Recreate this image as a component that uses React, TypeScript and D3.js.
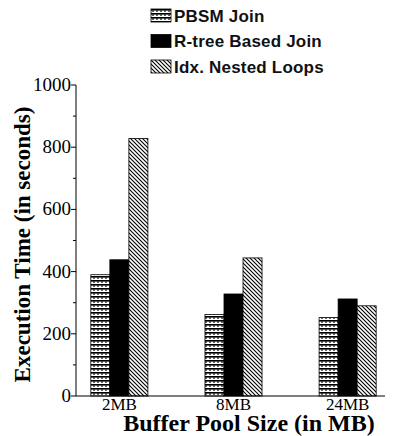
import React from "react";
import * as d3 from "d3";

const categories = ["2MB", "8MB", "24MB"];
const series = ["PBSM Join", "R-tree Based Join", "Idx. Nested Loops"];
const pbsm = [390, 262, 252];
const rtree = [438, 328, 312];
const nested = [828, 444, 290];
const yTicks = [0, 200, 400, 600, 800, 1000];
const yMinorTicks = [100, 300, 500, 700, 900];

const W = 395;
const H = 436;
const margin = { top: 85, right: 4, bottom: 40, left: 76 };

const fills = ["url(#pbsm)", "#000", "url(#nested)"];

export default function App() {
  const values = [pbsm, rtree, nested];
  const x = d3
    .scaleBand<string>()
    .domain(categories)
    .range([margin.left, W - margin.right])
    .paddingInner(0.5)
    .paddingOuter(0.13);
  const xs = d3.scaleBand<number>().domain(d3.range(series.length)).range([0, x.bandwidth()]);
  const y = d3.scaleLinear().domain([0, 1000]).range([H - margin.bottom, margin.top]);
  const serif = "'Liberation Serif', 'Times New Roman', serif";
  const sans = "'Liberation Sans', Arial, sans-serif";

  return (
    <svg width={W} height={H} style={{ position: "absolute", left: 0, top: 0, background: "#fff" }}>
      <defs>
        <pattern id="pbsm" width="4" height="4" patternUnits="userSpaceOnUse">
          <rect width="4" height="4" fill="#fff" />
          <rect x="0" y="0" width="4" height="1.6" fill="#000" />
          <rect x="1" y="1.6" width="2" height="1" fill="#000" />
        </pattern>
        <pattern id="nested" width="4" height="4" patternUnits="userSpaceOnUse">
          <rect width="4" height="4" fill="#fff" />
          <path d="M-1,-1 L5,5 M-1,3 L1,5 M3,-1 L5,1" stroke="#000" strokeWidth="1.1" />
        </pattern>
      </defs>

      {/* legend */}
      {series.map((s, i) => (
        <g key={s} transform={`translate(151,${9 + i * 25.5})`}>
          <rect width={20} height={13} fill={fills[i]} stroke="#000" strokeWidth={0.8} />
          <text x={23} y={12.5} fontFamily={sans} fontSize={17} fontWeight="bold" fill="#111" letterSpacing={0.2}>
            {s}
          </text>
        </g>
      ))}

      {/* bars */}
      {categories.map((c, ci) =>
        values.map((vals, si) => (
          <rect
            key={c + si}
            x={x(c)! + xs(si)!}
            y={y(vals[ci])}
            width={xs.bandwidth()}
            height={y(0) - y(vals[ci])}
            fill={fills[si]}
            stroke="#000"
            strokeWidth={0.8}
          />
        ))
      )}

      {/* y axis */}
      <line x1={margin.left} x2={margin.left} y1={y(1000)} y2={y(0)} stroke="#000" strokeWidth={1} />
      {yTicks.map((t) => (
        <g key={t}>
          <line x1={margin.left - 5} x2={margin.left} y1={y(t)} y2={y(t)} stroke="#000" />
          <text x={margin.left - 5} y={y(t) + 6} textAnchor="end" fontFamily={serif} fontSize={19}>
            {t}
          </text>
        </g>
      ))}
      {yMinorTicks.map((t) => (
        <line key={t} x1={margin.left - 3} x2={margin.left} y1={y(t)} y2={y(t)} stroke="#000" />
      ))}

      {/* x axis */}
      <line x1={margin.left} x2={W - margin.right - 6} y1={y(0)} y2={y(0)} stroke="#000" strokeWidth={1.2} />
      {categories.map((c) => (
        <text key={c} x={x(c)! + x.bandwidth() / 2} y={y(0) + 14} textAnchor="middle" fontFamily={serif} fontSize={17}>
          {c}
        </text>
      ))}

      <text x={249} y={431} textAnchor="middle" fontFamily={serif} fontSize={24} fontWeight="bold">
        Buffer Pool Size (in MB)
      </text>
      <text
        transform={`translate(30,${(y(0) + y(1000)) / 2 + 4}) rotate(-90)`}
        textAnchor="middle"
        fontFamily={serif}
        fontSize={23}
        fontWeight="bold"
      >
        Execution Time (in seconds)
      </text>
    </svg>
  );
}
